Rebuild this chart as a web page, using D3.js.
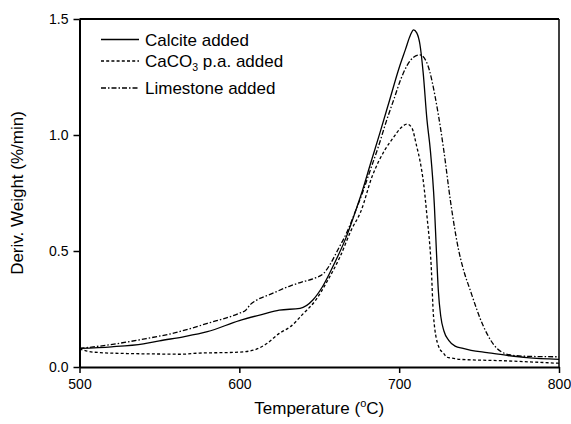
<!DOCTYPE html>
<html><head><meta charset="utf-8">
<script src="https://cdn.jsdelivr.net/npm/d3@7"></script>
<style>body{margin:0;background:#fff}svg{display:block}text{font-family:"Liberation Sans",Arial,sans-serif;fill:#000}</style>
</head><body><svg id="c" width="571" height="424"></svg>
<script>
const xTicks = [500, 600, 700, 800];
const yTicks = [0, 0.5, 1.0, 1.5];
const seriesNames = ["Calcite added", "CaCO3 p.a. added", "Limestone added"];
const calciteT = [500,520,540,550,565,580,600,615,625,638,646,652,659,667,673.6,677,682,688,694,700,704,707,709,711,713,715,717.4,719.5,722,723.3,724.5,726,728,731,735,740,745,755,767.5,780,800];
const calciteV = [0.080,0.087,0.100,0.113,0.130,0.152,0.200,0.228,0.245,0.253,0.289,0.346,0.440,0.562,0.690,0.760,0.875,1.010,1.150,1.290,1.370,1.430,1.453,1.440,1.390,1.270,1.065,0.935,0.700,0.500,0.330,0.220,0.155,0.115,0.090,0.080,0.072,0.062,0.050,0.040,0.033];
const caco3T = [500,505,513,530,550,563,575,590,600,610,617,625,632,640,648,655,663,670,676,683,691,696.5,701,705,708,711,713,715.3,717.4,720,721.5,724.7,727.8,730,734,738,765,800];
const caco3V = [0.078,0.068,0.062,0.058,0.056,0.055,0.060,0.062,0.064,0.075,0.100,0.145,0.174,0.230,0.290,0.370,0.475,0.590,0.670,0.820,0.935,0.990,1.030,1.047,1.030,0.950,0.890,0.790,0.650,0.440,0.217,0.088,0.059,0.042,0.037,0.033,0.027,0.016];
const limeT = [500,518,539,560,580,600,604,607,610,620,632,640,648,653,657,662,667,672,677,682,687,692,697,701,705,709,713,717.4,723.7,728,732,737.2,740,744.5,752.8,761.2,769.6,780,800];
const limeV = [0.080,0.095,0.119,0.148,0.188,0.232,0.245,0.270,0.285,0.315,0.350,0.368,0.385,0.405,0.445,0.510,0.576,0.660,0.750,0.850,0.950,1.060,1.160,1.240,1.300,1.335,1.345,1.310,1.120,0.930,0.720,0.504,0.425,0.330,0.174,0.080,0.052,0.046,0.044];
const dashes = [null, "3,2.2", "5,2,1.5,2"];

const svg = d3.select("#c");
const L = 79.5, R = 559, T = 19, B = 367;
const x = d3.scaleLinear().domain([500, 800]).range([L, R]);
const y = d3.scaleLinear().domain([0, 1.5]).range([B, T]);

const series = [
  calciteT.map((t,i)=>[t, calciteV[i]]),
  caco3T.map((t,i)=>[t, caco3V[i]]),
  limeT.map((t,i)=>[t, limeV[i]])
];
const line = d3.line().x(d=>x(d[0])).y(d=>y(d[1])).curve(d3.curveMonotoneX);
series.forEach((s,i)=>{
  svg.append("path").attr("d", line(s)).attr("fill","none").attr("stroke","#000")
    .attr("stroke-width", 1.3).attr("stroke-dasharray", dashes[i]);
});

// frame
svg.append("line").attr("x1",L).attr("x2",R).attr("y1",T).attr("y2",T).attr("stroke","#000").attr("stroke-width",1.8);
svg.append("line").attr("x1",R).attr("x2",R).attr("y1",T).attr("y2",B).attr("stroke","#000").attr("stroke-width",1.5);

const xa = svg.append("g").attr("transform",`translate(0,${B})`)
  .call(d3.axisBottom(x).tickValues(xTicks).tickSize(6).tickSizeOuter(0).tickPadding(6).tickFormat(d3.format("d")));
const ya = svg.append("g").attr("transform",`translate(${L},0)`)
  .call(d3.axisLeft(y).tickValues(yTicks).tickSize(6).tickSizeOuter(0).tickPadding(5).tickFormat(d3.format(".1f")));
[xa, ya].forEach(a=>{
  a.select(".domain").attr("stroke","#000").attr("stroke-width",2);
  a.selectAll(".tick line").attr("stroke","#000").attr("stroke-width",1.5);
  a.selectAll(".tick text").attr("font-size",14).attr("font-family","Liberation Sans, Arial, sans-serif").attr("fill","#000");
});

// axis titles
const xt = svg.append("text").attr("x", (L+R)/2).attr("y", 414).attr("text-anchor","middle").attr("font-size",17);
xt.append("tspan").text("Temperature (");
xt.append("tspan").attr("font-size",11).attr("dy",-7).text("o");
xt.append("tspan").attr("dy",7).text("C)");
svg.append("text").attr("transform",`translate(23,${(T+B)/2}) rotate(-90)`).attr("text-anchor","middle")
  .attr("font-size",17).text("Deriv. Weight (%/min)");

// legend
const legY = [39.5, 61, 88];
const legBase = [45.5, 67, 94];
seriesNames.forEach((n,i)=>{
  svg.append("line").attr("x1",101).attr("x2",139).attr("y1",legY[i]).attr("y2",legY[i])
    .attr("stroke","#000").attr("stroke-width",1.3).attr("stroke-dasharray",dashes[i]);
  const t = svg.append("text").attr("x",145).attr("y",legBase[i]).attr("font-size",17);
  if (n.startsWith("CaCO3")) {
    t.append("tspan").text("CaCO");
    t.append("tspan").attr("font-size",10.5).attr("dy",4).text("3");
    t.append("tspan").attr("dy",-4).text(" p.a. added");
  } else t.text(n);
});
</script></body></html>
